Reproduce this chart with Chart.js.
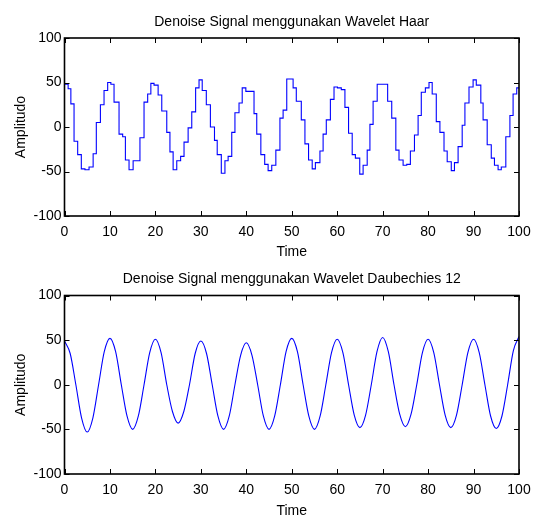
<!DOCTYPE html>
<html>
<head>
<meta charset="utf-8">
<script src="https://cdn.jsdelivr.net/npm/chart.js@4.4.1/dist/chart.umd.min.js"></script>
<style>
    body { margin: 0; background: #fff; }
    canvas { display: block; }
</style>
</head>
<body>
<canvas id="grafikHaar" width="534" height="259"></canvas>
<canvas id="grafikDb12" width="534" height="259"></canvas>
<script>
// sinyal hasil denoise Haar: waktu awal tiap anak tangga dan nilainya
const waktuHaar = [0, 0.8, 1.4, 2.1, 2.9, 3.7, 4.5, 5.4, 6.3, 7.0, 7.9, 8.7, 9.5, 10.2, 10.9, 12.0, 12.8, 13.4, 14.2, 15.1,
    16.6, 17.5, 18.3, 19.0, 19.7, 20.6, 21.4, 22.5, 23.2, 23.9, 24.7, 25.55, 26.3, 27.2, 28.0, 28.85, 29.6, 30.3, 31.2, 32.1,
    33.0, 33.6, 34.5, 35.3, 36.0, 36.8, 37.5, 38.4, 39.1, 39.9, 41.7, 42.3, 43.2, 44.05, 44.8, 45.6, 46.5, 47.4, 48.1, 48.9,
    50.3, 51.0, 52.1, 52.9, 53.7, 54.5, 55.2, 56.2, 56.9, 57.6, 58.5, 59.3, 60.05, 60.9, 61.7, 62.5, 63.3, 64.0, 64.96, 65.7,
    66.6, 67.2, 67.9, 68.8, 71.1, 72.0, 72.9, 73.6, 74.5, 75.3, 76.1, 77.0, 77.8, 78.5, 79.4, 80.2, 80.9, 81.8, 82.6, 83.5,
    84.2, 85.1, 85.8, 86.6, 87.5, 88.1, 89.0, 89.9, 90.6, 91.6, 92.1, 93.0, 93.9, 94.6, 95.4, 96.1, 97.1, 98.0, 98.7, 99.5, 100];
const nilaiHaar = [48, 43, 26, -16, -31, -47, -48, -45, -30, 5, 25, 41, 50, 48, 28, -8, -11, -37, -48, -38,
    -12, 28, 37, 49, 47, 36, 18, -6, -28, -48, -38, -33, -17, -1, 17, 44, 53, 41, 25, 0,
    -15, -31, -52, -38, -33, -6, 16, 27, 44, 40, 15, -8, -31, -42, -49, -43, -26, 10, 19, 54,
    44, 29, 8, -19, -37, -47, -40, -27, -8, 8, 31, 45, 44, 42, 22, -7, -31, -35, -53, -43,
    -26, 3, 29, 48, 29, 10, -26, -37, -43, -42, -27, -9, 13, 39, 44, 50, 37, 6, -6, -27,
    -39, -49, -40, -22, 2, 27, 45, 53, 47, 27, 8, -20, -35, -43, -48, -45, -11, 13, 37, 44, 44];

// sinyal hasil denoise Daubechies 12, dibaca tiap 1.25 satuan waktu
const jarakDb12 = 1.25;
const nilaiDb12 = [49, 35, 0, -37, -53, -37, 0, 37,
    52, 37, 0, -35, -50, -35, 0, 36,
    51, 36, 0, -30, -43, -30, 0, 35,
    49, 35, 0, -35, -50, -35, 0, 33,
    47, 33, 0, -35, -50, -35, 0, 37,
    52, 37, 0, -35, -50, -35, 0, 36,
    51, 36, 0, -34, -48, -34, 0, 37,
    53, 37, 0, -33, -47, -33, 0, 36,
    51, 36, 0, -34, -48, -34, 0, 36,
    51, 36, 0, -35, -49, -35, 0, 38,
    54];

const tickWaktu = [0, 10, 20, 30, 40, 50, 60, 70, 80, 90, 100];
const tickAmplitudo = [-100, -50, 0, 50, 100];

const hurufDasar = "'Liberation Sans Narrow', 'Liberation Sans', Arial, sans-serif";

// kotak dan garis tick ke dalam ala matlab
const kotakMatlab = {
    id: 'kotakMatlab',
    afterDatasetsDraw(chart) {
        const {ctx, chartArea: a, scales: {x, y}} = chart;
        ctx.save();
        ctx.strokeStyle = '#000';
        ctx.lineWidth = 1;
        ctx.beginPath();
        x.ticks.forEach(t => {
            const px = Math.round(x.getPixelForValue(t.value)) + 0.5;
            ctx.moveTo(px, a.bottom); ctx.lineTo(px, a.bottom - 5);
            ctx.moveTo(px, a.top); ctx.lineTo(px, a.top + 5);
        });
        y.ticks.forEach(t => {
            const py = Math.round(y.getPixelForValue(t.value)) + 0.5;
            ctx.moveTo(a.left, py); ctx.lineTo(a.left + 5, py);
            ctx.moveTo(a.right, py); ctx.lineTo(a.right - 5, py);
        });
        ctx.stroke();
        ctx.lineWidth = 1.6;
        ctx.strokeRect(a.left, a.top, a.right - a.left, a.bottom - a.top);
        ctx.restore();
    }
};

function buatGrafik(idCanvas, judul, titik, bertangga, padJudul, batasBawah) {
    return new Chart(document.getElementById(idCanvas), {
        type: 'line',
        data: {
            datasets: [{
                data: titik,
                borderColor: '#0000ff',
                borderWidth: 1.1,
                pointRadius: 0,
                stepped: bertangga,
                cubicInterpolationMode: bertangga ? 'default' : 'monotone',
                fill: false
            }]
        },
        options: {
            responsive: false,
            animation: false,
            devicePixelRatio: 1,
            layout: {padding: {left: 0, right: 15, top: 0, bottom: 0}},
            plugins: {
                legend: {display: false},
                tooltip: {enabled: false},
                title: {
                    display: true,
                    text: judul,
                    fullSize: false,
                    color: '#000',
                    font: {family: hurufDasar, size: 14, weight: 'normal'},
                    padding: padJudul
                }
            },
            scales: {
                x: {
                    type: 'linear',
                    min: 0,
                    max: 100,
                    afterBuildTicks: s => { s.ticks = tickWaktu.map(v => ({value: v})); },
                    afterFit: s => { s.height = batasBawah; s.paddingLeft = 0; s.paddingRight = 0; },
                    grid: {display: false, drawTicks: false},
                    border: {display: false},
                    ticks: {color: '#000', padding: 7.6, maxRotation: 0, font: {family: hurufDasar, size: 14}},
                    title: {display: true, text: 'Time', color: '#000', padding: {top: 0, bottom: -2}, font: {family: hurufDasar, size: 14}}
                },
                y: {
                    min: -100,
                    max: 100,
                    afterBuildTicks: s => { s.ticks = tickAmplitudo.map(v => ({value: v})); },
                    afterFit: s => { s.width = 64.5; },
                    grid: {display: false, drawTicks: false},
                    border: {display: false},
                    ticks: {color: '#000', padding: 3, font: {family: hurufDasar, size: 14}},
                    title: {display: true, text: 'Amplitudo', color: '#000', padding: {top: 13, bottom: 0}, font: {family: hurufDasar, size: 14}}
                }
            }
        },
        plugins: [kotakMatlab]
    });
}

window.addEventListener('load', () => {
    const titikHaar = waktuHaar.map((w, i) => ({x: w, y: nilaiHaar[i]}));
    const titikDb12 = nilaiDb12.map((v, i) => ({x: i * jarakDb12, y: v}));

    buatGrafik('grafikHaar', 'Denoise Signal menggunakan Wavelet Haar', titikHaar, true, {top: 13.6, bottom: 7.6}, 43);
    buatGrafik('grafikDb12', 'Denoise Signal menggunakan Wavelet Daubechies 12', titikDb12, false, {top: 11.6, bottom: 8.1}, 44);
});
</script>
</body>
</html>
